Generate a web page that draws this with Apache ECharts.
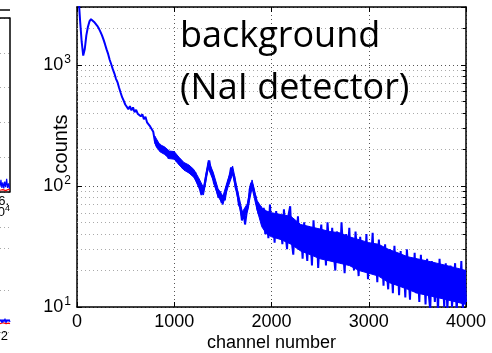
<!DOCTYPE html>
<html>
<head>
<meta charset="utf-8">
<script src="https://cdn.jsdelivr.net/npm/echarts@6/dist/echarts.min.js"></script>
<style>
html,body{margin:0;padding:0;background:#fff;}
#chart{width:492px;height:353px;}
</style>
</head>
<body>
<div id="chart"></div>
<script>
// ---- data ----
const channelStep = 16; // counts sampled every 16 channels, starting at channel 0
const counts = [
6000,3600,2300,1550,1190,1350,1750,2050,2280,2380,
2330,2260,2200,2100,2000,1880,1760,1620,1480,1340,
1230,1100,1010,920,850,770,720,650,590,540,
505,470,455,430,455,420,445,405,425,395,
410,375,390,355,372,335,345,310,318,280,
235,215,205,222,196,212,188,200,182,168,
190,172,192,176,160,172,150,160,140,154,
136,148,128,140,132,122,130,108,112,94,
84,92,100,122,140,162,136,126,106,98,
90,80,90,72,84,76,96,106,120,142,
126,120,96,90,70,66,52,62,48,60,
68,94,106,100,86,80,64,58,68,
48,66,40,58,37,70,44,52,34,62,
38,55,45,33,64,40,30,58,68,35,
27,48,36,56,30,42,25,50,34,24,
46,38,22,52,30,44,21,36,48,26,
40,22,50,33,24,45,28,20,42,35,
24,50,30,19,40,27,45,22,34,20,
42,28,18,38,25,33,20,40,17,30,
24,41,19,30,16,36,22,28,15,33,
20,14,30,24,13,32,18,26,12.5,29,
16,22,12,30,19,11.5,25,14,28,13,
20,11,27,15,22,10.5,25,13,9.5,24,
16,11,21,9,25,14,19,10,23,9.5,
17,22,10,15,23,9,18,12,24,9.5,
20,11
];
// dense core of the noisy spectrum (lower / upper edge of the solid blue band)
const bandChannels = [800,850,900,950,1000,1050,1100,1150,1200,1250,1300,1350,1400,1450,1500,1550,1600,1650,1700,1750,1800,1850,1900,
  1950,2000,2100,2200,2300,2400,2500,2600,2700,2800,2900,3000,3100,3200,3300,3400,3500,3600,3700,3800,3900,4000];
const bandLow  = [225,192,182,168,166,149,135,128,118,100,84,140,111,82,70,96,125,80,52,61,96,64,46,
  40,38,36,33,29,27,25,24,23,22,20,19,18,16,15,14,13,12.5,12,11.5,11,10.5];
const bandHigh = [258,220,210,194,192,172,156,149,137,117,97,162,130,95,82,112,146,93,61,71,112,76,66,
  62,60,58,56,48,46,44,42,41,38,36,34,33,30,28,26,25,24,23,22,21,20];
const xTicks = [0, 1000, 2000, 3000, 4000];
const minorGridValues = [20,30,40,50,60,70,80,90,200,300,400,500,600,700,800,900,2000];
const titleLines = ['background', '(NaI detector)'];

// neighbouring (cropped) panel fragments on the left edge
const leftX = [0, 0.1, 0.2, 0.3, 0.4, 0.5, 0.6, 0.7, 0.8, 0.9, 1.0];
const leftBlueUpper = [0.15, 0.35, 0.12, 0.28, 0.1, 0.3, 0.14, 0.38, 0.12, 0.25, 0.1];
const leftRedUpper  = [0.05, 0.08, 0.04, 0.07, 0.05, 0.09, 0.04, 0.06, 0.05, 0.08, 0.05];
const leftBlueLower = [0.25, 0.3, 0.22, 0.3, 0.24, 0.32, 0.22, 0.3, 0.25, 0.3, 0.24];
const leftRedLower  = [0.2, 0.21, 0.2, 0.22, 0.2, 0.21, 0.2, 0.22, 0.2, 0.21, 0.2];

// ---- build ----
const mainData = counts.map((c, i) => [i * channelStep, c]);
const pair = (xs, ys) => xs.map((x, i) => [x, ys[i]]);

const FONT = 'Liberation Sans';
const dotDark = { color: '#555', width: 1, type: [1, 3] };
const dotLight = { color: '#aaa', width: 1, type: [1, 3] };

const chart = echarts.init(document.getElementById('chart'), null, { renderer: 'canvas' });

const option = {
  animation: false,
  backgroundColor: '#fff',
  grid: [
    { left: 77, right: 26, top: 7, bottom: 46, containLabel: false, outerBoundsMode: 'none' },
    { left: 0, right: 482.5, top: 18, bottom: 161, outerBoundsMode: 'none' },
    { left: 0, right: 482, top: 227, bottom: 21, outerBoundsMode: 'none' }
  ],
  xAxis: [
    {
      gridIndex: 0, type: 'value', min: 0, max: 4000, interval: 1000,
      position: 'bottom',
      name: 'channel number', nameLocation: 'middle', nameGap: 27, nameMoveOverlap: false,
      nameTextStyle: { fontFamily: FONT, fontSize: 18, color: '#000' },
      axisLine: { show: true, onZero: false, lineStyle: { color: '#000', width: 1.5 } },
      axisTick: { show: true, inside: true, length: 5, lineStyle: { color: '#000', width: 1 } },
      axisLabel: { fontFamily: FONT, fontSize: 18, color: '#000', margin: 6,
        formatter: v => xTicks.indexOf(v) >= 0 ? String(v) : '' },
      splitLine: { show: true, lineStyle: dotDark }
    },
    {
      gridIndex: 0, type: 'value', min: 0, max: 4000, interval: 1000,
      position: 'top',
      axisLine: { show: true, onZero: false, lineStyle: { color: '#000', width: 1.5 } },
      axisTick: { show: true, inside: true, length: 5, lineStyle: { color: '#000', width: 1 } },
      axisLabel: { show: false },
      splitLine: { show: false }
    },
    {
      gridIndex: 1, type: 'value', min: 0, max: 1, position: 'bottom',
      axisLine: { show: true, onZero: false, lineStyle: { color: '#000', width: 1.5 } },
      axisTick: { show: false }, axisLabel: { show: false }, splitLine: { show: false }
    },
    {
      gridIndex: 1, type: 'value', min: 0, max: 1, position: 'top',
      axisLine: { show: true, onZero: false, lineStyle: { color: '#000', width: 1.5 } },
      axisTick: { show: false }, axisLabel: { show: false }, splitLine: { show: false }
    },
    {
      gridIndex: 2, type: 'value', min: 0, max: 1, position: 'bottom',
      axisLine: { show: false }, axisTick: { show: false }, axisLabel: { show: false },
      splitLine: { show: false }
    }
  ],
  yAxis: [
    {
      gridIndex: 0, type: 'log', logBase: 10, min: 10, max: 3000,
      position: 'left',
      axisLine: { show: true, onZero: false, lineStyle: { color: '#000', width: 1.5 } },
      axisTick: { show: true, inside: true, length: 5, lineStyle: { color: '#000', width: 1 } },
      axisLabel: {
        margin: 6,
        formatter: function (v) {
          const e = Math.round(Math.log10(v));
          if (Math.abs(Math.pow(10, e) - v) > 1e-6 * v) return '';
          return '{b|10}{s|' + e + '}';
        },
        rich: {
          b: { fontFamily: FONT, fontSize: 18, color: '#000' },
          s: { fontFamily: FONT, fontSize: 12, color: '#000', padding: [0, 0, 10, 1] }
        }
      },
      splitLine: { show: true, lineStyle: dotDark }
    },
    {
      gridIndex: 0, type: 'log', logBase: 10, min: 10, max: 3000,
      position: 'right',
      axisLine: { show: true, onZero: false, lineStyle: { color: '#000', width: 1.5 } },
      axisTick: { show: true, inside: true, length: 5, lineStyle: { color: '#000', width: 1 } },
      axisLabel: { show: false },
      splitLine: { show: false }
    },
    {
      gridIndex: 1, type: 'value', min: 0, max: 5, interval: 1, position: 'left',
      axisLine: { show: false }, axisTick: { show: false }, axisLabel: { show: false },
      splitLine: { show: true, lineStyle: dotLight }
    },
    {
      gridIndex: 1, type: 'value', min: 0, max: 5, interval: 1, position: 'right',
      axisLine: { show: true, onZero: false, lineStyle: { color: '#000', width: 1.5 } },
      axisTick: { show: false }, axisLabel: { show: false }, splitLine: { show: false }
    },
    {
      gridIndex: 2, type: 'value', min: 0, max: 2.5, interval: 1, position: 'left',
      axisLine: { show: false }, axisTick: { show: false }, axisLabel: { show: false },
      splitLine: { show: true, lineStyle: dotLight }
    }
  ],
  series: [
    {
      type: 'line', xAxisIndex: 0, yAxisIndex: 0, data: [], silent: true, z: 1,
      markLine: {
        silent: true, symbol: 'none', animation: false, z: 1,
        label: { show: false },
        lineStyle: dotLight,
        data: minorGridValues.map(v => ({ yAxis: v }))
          .concat(minorGridValues.map(v => [{ coord: [3965, v], lineStyle: { color: '#000', width: 1, type: 'solid' } }, { coord: [4000, v] }]))
      }
    },
    {
      type: 'custom', xAxisIndex: 0, yAxisIndex: 0, z: 2, silent: true, clip: true,
      data: [[bandChannels[0], bandLow[0]]],
      renderItem: function (params, api) {
        const upper = bandChannels.map((c, i) => api.coord([c, bandHigh[i]]));
        const lower = bandChannels.map((c, i) => api.coord([c, bandLow[i]])).reverse();
        return { type: 'polygon', shape: { points: upper.concat(lower) },
          style: { fill: '#0000ff', stroke: '#0000ff', lineWidth: 1 } };
      }
    },
    {
      name: 'background', type: 'line', xAxisIndex: 0, yAxisIndex: 0,
      data: mainData, showSymbol: false, symbol: 'none', clip: true, z: 3,
      lineStyle: { color: '#0000ff', width: 2 }
    },
    { type: 'line', xAxisIndex: 2, yAxisIndex: 2, data: pair(leftX, leftRedUpper), symbol: 'none',
      lineStyle: { color: '#ff0000', width: 1.2 }, z: 3 },
    { type: 'line', xAxisIndex: 2, yAxisIndex: 2, data: pair(leftX, leftBlueUpper), symbol: 'none',
      lineStyle: { color: '#0000ff', width: 1.2 }, z: 3 },
    { type: 'line', xAxisIndex: 4, yAxisIndex: 4, data: pair(leftX, leftRedLower), symbol: 'none',
      lineStyle: { color: '#ff0000', width: 1.2 }, z: 3 },
    { type: 'line', xAxisIndex: 4, yAxisIndex: 4, data: pair(leftX, leftBlueLower), symbol: 'none',
      lineStyle: { color: '#0000ff', width: 1.2 }, z: 3 }
  ],
  graphic: [
    { type: 'text', left: 180, top: 19, z: 10,
      style: { text: titleLines[0], fontFamily: 'Open Sans', fontSize: 36, fill: '#000' } },
    { type: 'text', left: 180, top: 71, z: 10,
      style: { text: titleLines[1], fontFamily: 'Open Sans', fontSize: 36, fill: '#000' } },
    { type: 'text', x: 61, y: 144, rotation: Math.PI / 2, z: 10,
      style: { text: 'counts', fontFamily: FONT, fontSize: 20, fill: '#000', align: 'center', verticalAlign: 'middle' } },
    { type: 'line', z: 10, shape: { x1: 0, y1: 10, x2: 10, y2: 10 }, style: { stroke: '#444', lineWidth: 2 } },
    { type: 'text', x: 9, y: 201, z: 10,
      style: { text: '6.', fontFamily: FONT, fontSize: 13, fill: '#000', align: 'right', verticalAlign: 'middle' } },
    { type: 'text', x: 10, y: 212, z: 10,
      style: { text: '{a|×10}{b|4}', fontFamily: FONT, fill: '#000', align: 'right', verticalAlign: 'middle',
        rich: { a: { fontFamily: FONT, fontSize: 13 }, b: { fontFamily: FONT, fontSize: 9, padding: [0, 0, 7, 0] } } } },
    { type: 'text', x: 8, y: 336, z: 10,
      style: { text: '2', fontFamily: FONT, fontSize: 13, fill: '#000', align: 'right', verticalAlign: 'middle' } }
  ]
};
chart.setOption(option);
</script>
</body>
</html>
